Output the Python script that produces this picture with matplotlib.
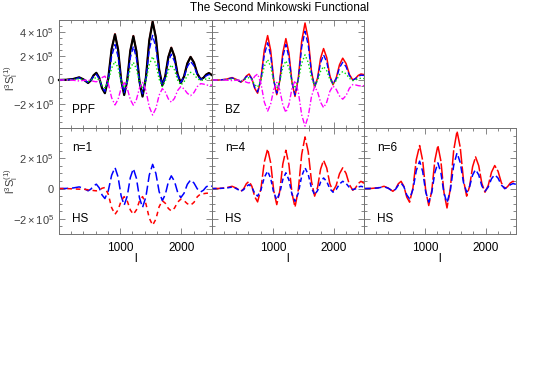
import numpy as np
import matplotlib
matplotlib.use("Agg")
import matplotlib.pyplot as plt
from matplotlib.ticker import MultipleLocator

plt.rcParams['font.family'] = 'Liberation Sans'
plt.rcParams['mathtext.fontset'] = 'custom'
plt.rcParams['mathtext.rm'] = 'Liberation Sans'
plt.rcParams['mathtext.it'] = 'Liberation Sans:italic'

# =============================================================================
# data (values in units of 1e5)
# =============================================================================
ell = [0, 120, 230, 330, 400, 475, 520, 565, 610, 657, 703, 750, 805, 860, 915,
       965, 1015, 1065, 1115, 1165, 1215, 1265, 1315, 1365, 1420, 1475, 1530,
       1583, 1636, 1688, 1737, 1786, 1835, 1887, 1938, 1990, 2043, 2097, 2150,
       2205, 2260, 2315, 2360, 2405, 2450, 2500]

# PPF panel
ppf_black = [0, 0.02, 0.08, 0.22, 0.05, -0.25, -0.04, 0.39, 0.6, 0.18, -0.68, -1.1,
             0.13, 2.58, 3.8, 2.54, 0.01, -1.25, -0.03, 2.43, 3.65, 2.39, -0.12, -1.38,
             0.18, 3.29, 4.85, 3.53, 0.88, -0.45, 0.33, 1.90, 2.68, 1.95, 0.48, -0.25,
             0.29, 1.38, 1.92, 1.45, 0.52, 0.05, 0.18, 0.45, 0.58, 0.4]
ppf_red = [0, 0.02, 0.08, 0.22, 0.05, -0.24, -0.04, 0.38, 0.58, 0.17, -0.66, -1.07,
           0.14, 2.6, 3.85, 2.57, 0.03, -1.22, -0.01, 2.46, 3.7, 2.42, -0.1, -1.35,
           0.21, 3.33, 4.92, 3.57, 0.9, -0.43, 0.34, 1.92, 2.72, 1.98, 0.49, -0.24,
           0.3, 1.4, 1.95, 1.47, 0.53, 0.06, 0.19, 0.46, 0.6, 0.42]
ppf_blue = [0, 0.01, 0.06, 0.18, 0.04, -0.2, -0.03, 0.31, 0.48, 0.12, -0.59, -0.95,
            0.03, 1.98, 2.95, 1.95, -0.05, -1.05, -0.09, 1.84, 2.8, 1.81, -0.16, -1.15,
            0.07, 2.50, 3.72, 2.69, 0.63, -0.4, 0.24, 1.51, 2.15, 1.56, 0.39, -0.2,
            0.24, 1.11, 1.55, 1.18, 0.43, 0.05, 0.15, 0.35, 0.45, 0.32]
ppf_green = [0, 0, 0.03, 0.1, 0.02, -0.12, -0.04, 0.12, 0.2, -0.01, -0.44, -0.65,
             -0.1, 1.0, 1.55, 1.0, -0.1, -0.65, -0.12, 0.94, 1.47, 0.93, -0.16, -0.7,
             -0.04, 1.29, 1.95, 1.33, 0.07, -0.55, -0.1, 0.81, 1.26, 0.84, 0.0, -0.42,
             -0.16, 0.38, 0.64, 0.47, 0.12, -0.05, 0.0, 0.09, 0.14, 0.1]
ppf_magenta = [0, 0, -0.02, -0.08, -0.03, 0.0, -0.04, -0.11, -0.15, -0.03, 0.2, 0.32,
               -0.28, -1.48, -2.08, -1.62, -0.69, -0.22, -0.69, -1.63, -2.1, -1.63, -0.68, -0.2,
               -0.88, -2.24, -2.92, -2.37, -1.27, -0.72, -1.0, -1.57, -1.85, -1.53, -0.88, -0.55,
               -0.74, -1.11, -1.3, -1.05, -0.55, -0.3, -0.34, -0.41, -0.45, -0.42]

# BZ panel
bz_red = [0, 0.0, 0.06, 0.2, 0.05, -0.18, -0.01, 0.33, 0.5, 0.1, -0.7, -1.1,
          0.1, 2.5, 3.7, 2.47, 0.01, -1.22, -0.05, 2.28, 3.45, 2.25, -0.17, -1.37,
          0.16, 3.22, 4.75, 3.41, 0.71, -0.62, 0.19, 1.81, 2.62, 1.87, 0.36, -0.4,
          0.16, 1.27, 1.82, 1.37, 0.46, 0.0, 0.13, 0.38, 0.5, 0.45]
bz_blue = [0, 0, 0.05, 0.17, 0.04, -0.15, -0.01, 0.28, 0.42, 0.07, -0.65, -1.0,
           0.03, 2.08, 3.1, 2.05, -0.05, -1.1, -0.09, 1.94, 2.95, 1.9, -0.2, -1.25,
           0.08, 2.73, 4.06, 2.91, 0.6, -0.55, 0.11, 1.44, 2.1, 1.49, 0.26, -0.35,
           0.11, 1.02, 1.48, 1.11, 0.37, 0.0, 0.1, 0.3, 0.4, 0.38]
bz_green = [0, 0, 0.02, 0.08, 0.02, -0.08, -0.01, 0.13, 0.2, 0.0, -0.4, -0.6,
            -0.03, 1.13, 1.7, 1.11, -0.06, -0.65, -0.09, 1.04, 1.6, 1.03, -0.13, -0.7,
            0.0, 1.4, 2.1, 1.46, 0.19, -0.45, -0.06, 0.73, 1.12, 0.77, 0.05, -0.3,
            -0.05, 0.45, 0.7, 0.51, 0.14, -0.05, 0.0, 0.1, 0.15, 0.12]
bz_magenta = [0, 0, -0.01, -0.05, -0.02, 0.0, -0.06, -0.19, -0.25, -0.06, 0.31, 0.5,
              -0.28, -1.83, -2.6, -2.0, -0.8, -0.2, -0.83, -2.08, -2.7, -2.04, -0.71, -0.05,
              -1.0, -2.9, -3.85, -3.03, -1.38, -0.55, -0.99, -1.86, -2.3, -1.85, -0.95, -0.5,
              -0.78, -1.33, -1.6, -1.3, -0.69, -0.38, -0.41, -0.47, -0.5, -0.47]

# HS panels, n=1, 4, 6
n1_blue = [0, 0.01, 0.04, 0.11, 0.02, -0.15, -0.04, 0.18, 0.29, 0.05, -0.42, -0.66,
           -0.15, 0.88, 1.39, 0.77, -0.48, -1.1, -0.5, 0.72, 1.32, 0.68, -0.61, -1.25,
           -0.54, 0.89, 1.6, 1.0, -0.2, -0.8, -0.39, 0.43, 0.84, 0.48, -0.24, -0.6,
           -0.31, 0.28, 0.57, 0.37, -0.02, -0.22, -0.11, 0.11, 0.22, 0.15]
n1_red = [0, 0, -0.02, -0.04, -0.04, -0.08, -0.1, -0.13, -0.15, -0.1, 0.02, 0.07,
          -0.37, -1.26, -1.7, -1.41, -0.82, -0.53, -0.82, -1.41, -1.7, -1.41, -0.82, -0.53,
          -1.0, -1.95, -2.42, -2.02, -1.2, -0.8, -0.97, -1.31, -1.48, -1.29, -0.9, -0.7,
          -0.8, -1.0, -1.1, -0.91, -0.54, -0.35, -0.34, -0.31, -0.3, -0.3]
n4_red = [0, 0.01, 0.05, 0.15, 0.03, -0.18, -0.02, 0.32, 0.48, 0.14, -0.54, -0.88,
          -0.01, 1.75, 2.62, 1.7, -0.14, -1.06, -0.16, 1.63, 2.53, 1.59, -0.29, -1.23,
          -0.07, 2.25, 3.41, 2.43, 0.48, -0.5, 0.09, 1.28, 1.87, 1.36, 0.33, -0.18,
          0.21, 0.98, 1.37, 1.0, 0.26, -0.11, 0.04, 0.33, 0.48, 0.35]
n4_blue = [0, 0.01, 0.03, 0.1, 0.0, -0.18, -0.07, 0.15, 0.26, 0.07, -0.31, -0.5,
           -0.09, 0.74, 1.15, 0.68, -0.26, -0.73, -0.29, 0.6, 1.04, 0.57, -0.37, -0.84,
           -0.29, 0.82, 1.37, 0.93, 0.04, -0.4, -0.13, 0.43, 0.7, 0.47, -0.01, -0.24,
           -0.06, 0.3, 0.48, 0.34, 0.07, -0.07, -0.02, 0.1, 0.15, 0.1]
n6_red = [0, 0.01, 0.05, 0.15, 0.03, -0.18, -0.02, 0.32, 0.48, 0.14, -0.56, -0.9,
          0.04, 1.91, 2.84, 1.85, -0.13, -1.12, -0.13, 1.85, 2.84, 1.81, -0.25, -1.28,
          -0.01, 2.52, 3.79, 2.72, 0.57, -0.5, 0.15, 1.44, 2.09, 1.51, 0.34, -0.24,
          0.2, 1.08, 1.52, 1.14, 0.38, 0.0, 0.12, 0.36, 0.48, 0.4]
n6_blue = [0, 0.01, 0.04, 0.12, 0.02, -0.18, -0.04, 0.23, 0.37, 0.11, -0.42, -0.68,
           -0.06, 1.19, 1.81, 1.13, -0.22, -0.9, -0.25, 1.05, 1.7, 1.04, -0.29, -0.95,
           -0.12, 1.53, 2.36, 1.71, 0.41, -0.24, 0.14, 0.89, 1.26, 0.9, 0.18, -0.18,
           0.1, 0.65, 0.92, 0.69, 0.23, 0.0, 0.08, 0.25, 0.33, 0.28]

top_ticks = [-4e5, -2e5, 0, 2e5, 4e5]
top_labels = ['', r'$-2\times10^5$', '0', r'$2\times10^5$', r'$4\times10^5$']
bot_ticks = [-2e5, 0, 2e5, 4e5]
bot_labels = [r'$-2\times10^5$', '0', r'$2\times10^5$', '']

# =============================================================================
# figure
# =============================================================================
W, H = 545, 382
fig = plt.figure(figsize=(W / 100, H / 100), dpi=100)

def px_rect(x0, y0, x1, y1):
    return [x0 / W, 1 - y1 / H, (x1 - x0) / W, (y1 - y0) / H]

def setup(ax, ylim, ticks, labels, left, bottom):
    ax.set_xlim(0, 2500)
    ax.set_ylim(ylim)
    ax.set_xticks([0, 1000, 2000])
    ax.xaxis.set_minor_locator(MultipleLocator(200))
    ax.set_yticks(ticks)
    ax.yaxis.set_minor_locator(MultipleLocator(0.5e5))
    ax.tick_params(which='both', direction='in', top=True, right=True,
                   color='0.45', width=0.6, labelsize=8, labelcolor='0.25')
    ax.tick_params(which='major', length=4)
    ax.tick_params(which='minor', length=2.2)
    if left:
        ax.set_yticklabels(labels)
    else:
        ax.set_yticklabels([])
    if bottom:
        ax.set_xticklabels(['', '1000', '2000'], fontsize=8.5, color='black')
        ax.tick_params(axis='x', pad=6)
    else:
        ax.set_xticklabels([])
    for s in ax.spines.values():
        s.set_color('0.45')
        s.set_linewidth(0.7)
    ax.patch.set_alpha(0)

def curve(ax, y, color, lw, ls='-', dashes=None):
    ln, = ax.plot(ell, np.array(y) * 1e5, color=color, lw=lw, ls=ls, clip_on=False)
    if dashes is not None:
        ln.set_dashes(dashes)
    return ln

ylim_top = (-4e5, 5e5)
ylim_bot = (-3e5, 4e5)

# --- top row
ax1 = fig.add_axes(px_rect(59, 20, 212, 128))
setup(ax1, ylim_top, top_ticks, top_labels, True, False)
curve(ax1, ppf_red, 'red', 1.1)
curve(ax1, ppf_black, 'black', 1.6)
curve(ax1, ppf_blue, 'blue', 1.0, dashes=(4, 2))
curve(ax1, ppf_green, '#00e000', 1.0, ls=':')
curve(ax1, ppf_magenta, 'magenta', 1.0, dashes=(4, 1.5, 1, 1.5))
ax1.text(0.088, 0.167, 'PPF', transform=ax1.transAxes, va='center', fontsize=8.5)

ax2 = fig.add_axes(px_rect(212, 20, 364, 128))
setup(ax2, ylim_top, top_ticks, top_labels, False, False)
curve(ax2, bz_red, 'red', 1.1)
curve(ax2, bz_blue, 'blue', 1.0, dashes=(4, 2))
curve(ax2, bz_green, '#00e000', 1.0, ls=':')
curve(ax2, bz_magenta, 'magenta', 1.0, dashes=(4, 1.5, 1, 1.5))
ax2.text(0.088, 0.167, 'BZ', transform=ax2.transAxes, va='center', fontsize=8.5)

# --- bottom row
ax3 = fig.add_axes(px_rect(59, 128, 212, 234))
setup(ax3, ylim_bot, bot_ticks, bot_labels, True, True)
curve(ax3, n1_blue, 'blue', 1.1, dashes=(6, 2.5))
curve(ax3, n1_red, 'red', 1.1, dashes=(3, 2.5))

ax4 = fig.add_axes(px_rect(212, 128, 364, 234))
setup(ax4, ylim_bot, bot_ticks, bot_labels, False, True)
curve(ax4, n4_red, 'red', 1.1, dashes=(8, 2))
curve(ax4, n4_blue, 'blue', 1.1, dashes=(3, 2))

ax5 = fig.add_axes(px_rect(364, 128, 516, 234))
setup(ax5, ylim_bot, bot_ticks, bot_labels, False, True)
curve(ax5, n6_red, 'red', 1.1, dashes=(10, 1.5))
curve(ax5, n6_blue, 'blue', 1.1, dashes=(4.5, 2.5))

for ax, n in zip([ax3, ax4, ax5], ['n=1', 'n=4', 'n=6']):
    ax.text(0.088, 0.816, n, transform=ax.transAxes, va='center', fontsize=8.5)
    ax.text(0.088, 0.146, 'HS', transform=ax.transAxes, va='center', fontsize=8.5)
    ax.text(0.5, -0.235, 'l', transform=ax.transAxes, ha='center', va='center', fontsize=8.5)

# y labels and title
ylab = r'$\mathrm{l^3S_l^{(1)}}$'
fig.text(11 / W, 1 - 78 / H, ylab, rotation=90, ha='center', va='center', fontsize=8, color='0.25')
fig.text(11 / W, 1 - 181 / H, ylab, rotation=90, ha='center', va='center', fontsize=8, color='0.25')
fig.text(279 / W, 1 - 8 / H, 'The Second Minkowski Functional', ha='center', va='center', fontsize=8.5)

fig.savefig('out.png', dpi=100)
